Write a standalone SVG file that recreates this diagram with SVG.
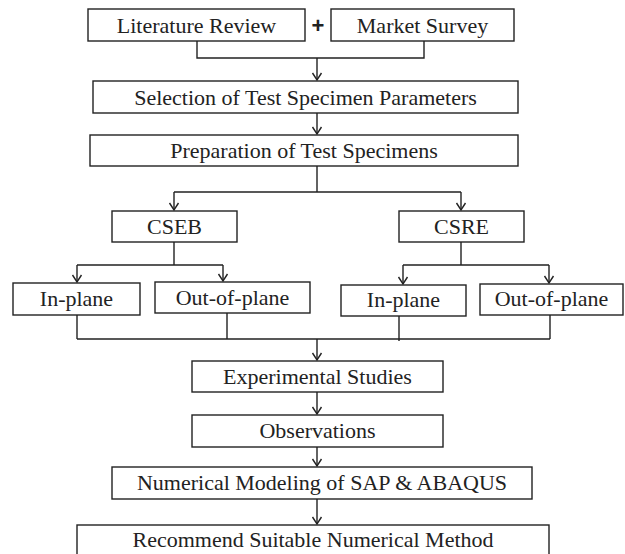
<svg xmlns="http://www.w3.org/2000/svg" width="625" height="554" viewBox="0 0 625 554">
<style>
.box{fill:#fff;stroke:#222;stroke-width:1.4}
.c{fill:none;stroke:#222;stroke-width:1.4}
</style>
<defs>
<marker id="ah" markerUnits="userSpaceOnUse" markerWidth="12" markerHeight="12" refX="0" refY="0" orient="auto" overflow="visible">
<path d="M-7,-4.5 L0,0 L-7,4.5" fill="none" stroke="#222" stroke-width="1.4"/>
</marker>
</defs>
<rect width="625" height="554" fill="#fff"/>
<g id="connectors">
<path class="c" d="M197 41 V58 H424 V41"/>
<path class="c" d="M317 58 V80" marker-end="url(#ah)"/>
<path class="c" d="M317 113 V134" marker-end="url(#ah)"/>
<path class="c" d="M317 166 V192 M174 192 H461"/>
<path class="c" d="M174 192 V210" marker-end="url(#ah)"/>
<path class="c" d="M461 192 V210" marker-end="url(#ah)"/>
<path class="c" d="M174 242 V265 M77 265 H223"/>
<path class="c" d="M77 265 V282" marker-end="url(#ah)"/>
<path class="c" d="M223 265 V281" marker-end="url(#ah)"/>
<path class="c" d="M461 242 V265 M403 265 H549"/>
<path class="c" d="M403 265 V284" marker-end="url(#ah)"/>
<path class="c" d="M549 265 V283" marker-end="url(#ah)"/>
<path class="c" d="M77 315 V339 M227 313 V339 M399 316 V341 M550 315 V339 M77 339 H550"/>
<path class="c" d="M317 339 V360" marker-end="url(#ah)"/>
<path class="c" d="M317 392 V414" marker-end="url(#ah)"/>
<path class="c" d="M317 447 V466" marker-end="url(#ah)"/>
<path class="c" d="M317 499 V524" marker-end="url(#ah)"/>
</g>
<g id="literature"><rect class="box" x="88" y="9" width="217" height="32"/><text font-family="Liberation Serif" font-size="22" fill="#222" text-anchor="middle" x="196.5" y="33">Literature Review</text></g>
<g id="market"><rect class="box" x="331" y="9" width="183" height="32"/><text font-family="Liberation Serif" font-size="22" fill="#222" text-anchor="middle" x="422.5" y="33">Market Survey</text></g>
<g id="selection"><rect class="box" x="93" y="81" width="425" height="32"/><text font-family="Liberation Serif" font-size="22" fill="#222" text-anchor="middle" x="305.5" y="105">Selection of Test Specimen Parameters</text></g>
<g id="preparation"><rect class="box" x="90" y="135" width="428" height="31"/><text font-family="Liberation Serif" font-size="22" fill="#222" text-anchor="middle" x="304" y="158">Preparation of Test Specimens</text></g>
<g id="cseb"><rect class="box" x="112" y="211" width="125" height="31"/><text font-family="Liberation Serif" font-size="22" fill="#222" text-anchor="middle" x="174.5" y="234">CSEB</text></g>
<g id="csre"><rect class="box" x="399" y="211" width="125" height="31"/><text font-family="Liberation Serif" font-size="22" fill="#222" text-anchor="middle" x="461.5" y="234">CSRE</text></g>
<g id="inplane1"><rect class="box" x="13" y="283" width="127" height="32"/><text font-family="Liberation Serif" font-size="22" fill="#222" text-anchor="middle" x="76.5" y="306">In-plane</text></g>
<g id="outplane1"><rect class="box" x="155" y="282" width="155" height="31"/><text font-family="Liberation Serif" font-size="22" fill="#222" text-anchor="middle" x="232.5" y="305">Out-of-plane</text></g>
<g id="inplane2"><rect class="box" x="341" y="285" width="125" height="31"/><text font-family="Liberation Serif" font-size="22" fill="#222" text-anchor="middle" x="403.5" y="307">In-plane</text></g>
<g id="outplane2"><rect class="box" x="480" y="284" width="143" height="31"/><text font-family="Liberation Serif" font-size="22" fill="#222" text-anchor="middle" x="551.5" y="306">Out-of-plane</text></g>
<g id="experimental"><rect class="box" x="192" y="361" width="251" height="31"/><text font-family="Liberation Serif" font-size="22" fill="#222" text-anchor="middle" x="317.5" y="384">Experimental Studies</text></g>
<g id="observations"><rect class="box" x="192" y="415" width="251" height="32"/><text font-family="Liberation Serif" font-size="22" fill="#222" text-anchor="middle" x="317.5" y="438">Observations</text></g>
<g id="numerical"><rect class="box" x="112" y="467" width="420" height="32"/><text font-family="Liberation Serif" font-size="22" fill="#222" text-anchor="middle" x="322" y="490">Numerical Modeling of SAP &amp; ABAQUS</text></g>
<g id="recommend"><rect class="box" x="77" y="525" width="472" height="34"/><text font-family="Liberation Serif" font-size="22" fill="#222" text-anchor="middle" x="313" y="547">Recommend Suitable Numerical Method</text></g>
<g id="plus"><text x="318" y="33" font-family="Liberation Sans" font-size="22" font-weight="bold" fill="#222" text-anchor="middle">+</text></g>
</svg>
